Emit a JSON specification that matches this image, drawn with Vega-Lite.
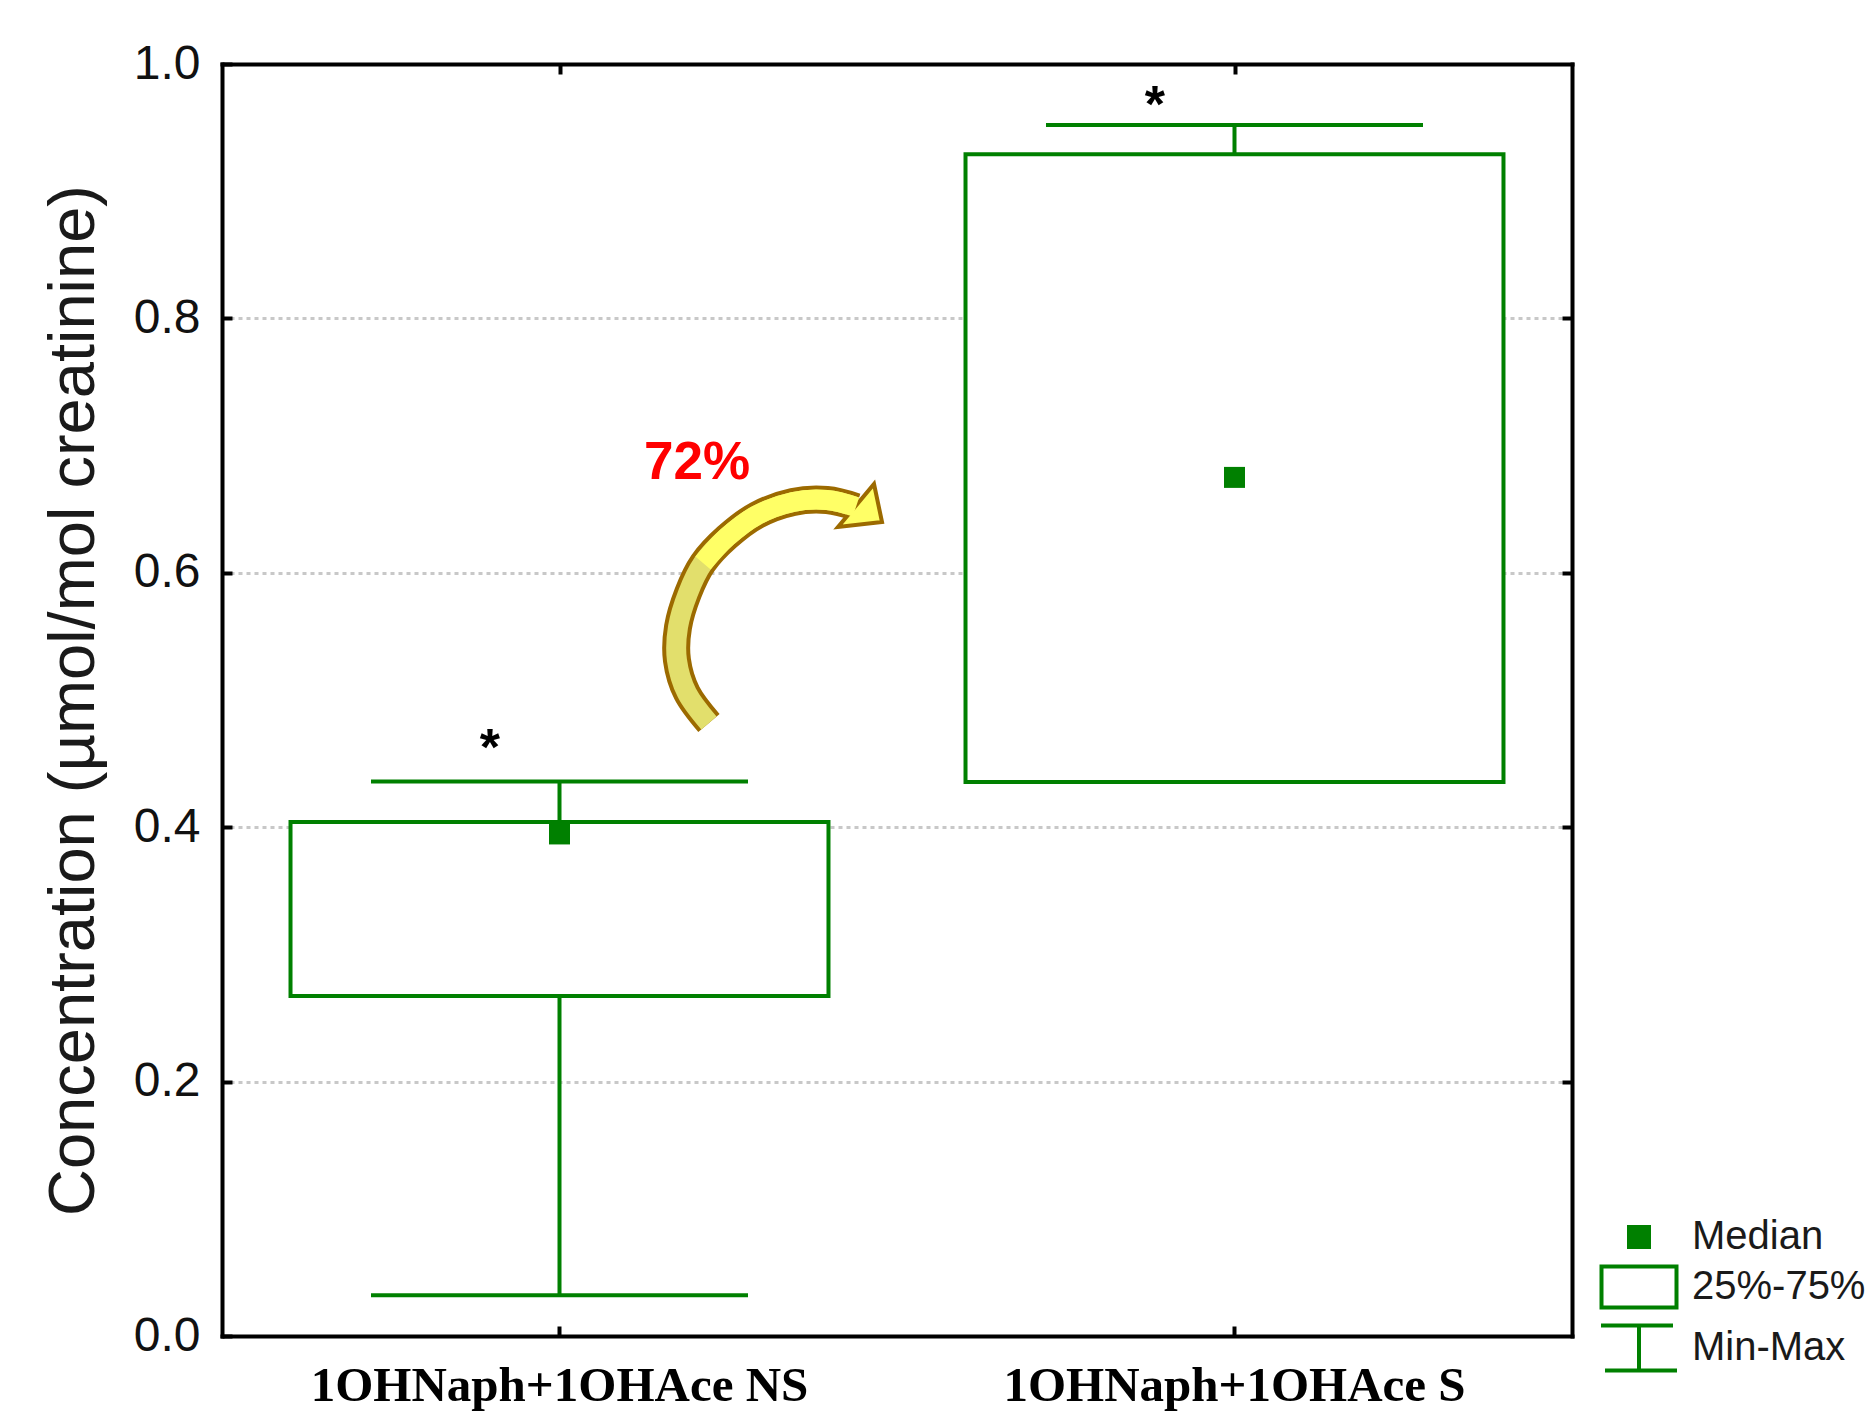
{
  "$schema": "https://vega.github.io/schema/vega-lite/v6.json",
  "width": 1350,
  "height": 1272,
  "autosize": {"type": "none"},
  "padding": {"left": 222, "top": 64, "right": 300, "bottom": 77},
  "background": "white",
  "config": {"view": {"stroke": null}, "font": "Liberation Sans"},
  "datasets": {
    "boxes": [
      {"group": "1OHNaph+1OHAce NS", "min": 0.032, "q1": 0.2673, "median": 0.3947, "q3": 0.404, "max": 0.4359},
      {"group": "1OHNaph+1OHAce S", "min": 0.4355, "q1": 0.4355, "median": 0.675, "q3": 0.929, "max": 0.952}
    ],
    "legend": [{"stat": "Median"}, {"stat": "25%-75%"}, {"stat": "Min-Max"}],
    "arrow": [
      {"step": 1, "x": 0.3607, "y": 0.4819},
      {"step": 2, "x": 0.3444, "y": 0.5055},
      {"step": 3, "x": 0.337, "y": 0.5314},
      {"step": 4, "x": 0.3378, "y": 0.5574},
      {"step": 5, "x": 0.3452, "y": 0.5841},
      {"step": 6, "x": 0.3563, "y": 0.6077},
      {"step": 7, "x": 0.3741, "y": 0.6281},
      {"step": 8, "x": 0.3963, "y": 0.6454},
      {"step": 9, "x": 0.423, "y": 0.6557},
      {"step": 10, "x": 0.4481, "y": 0.6572},
      {"step": 11, "x": 0.4696, "y": 0.6517}
    ],
    "head": [{"x": 0.4689, "y": 0.6525}],
    "stars": [
      {"x": 0.1985, "y": 0.4486, "label": "*"},
      {"x": 0.691, "y": 0.9546, "label": "*"}
    ],
    "notes": [{"x": 0.3519, "y": 0.6737, "label": "72%"}]
  },
  "layer": [
    {
      "data": {"name": "boxes"},
      "layer": [
        {
          "mark": {"type": "rule", "color": "#008000", "strokeWidth": 4},
          "encoding": {
            "x": {
              "field": "group", "type": "nominal",
              "scale": {"type": "band", "domain": ["1OHNaph+1OHAce NS", "1OHNaph+1OHAce S"], "paddingInner": 0, "paddingOuter": 0},
              "axis": {
                "title": null, "labelAngle": 0, "labelFont": "Liberation Serif", "labelFontWeight": "bold",
                "labelFontSize": 49, "labelColor": "#000000", "labelPadding": 35, "labelLimit": 0,
                "tickSize": -10, "tickWidth": 4, "tickColor": "#000000",
                "domainColor": "#000000", "domainWidth": 4, "domainCap": "square",
                "bandPosition": 0.5, "grid": false, "zindex": 1
              }
            },
            "y": {
              "field": "min", "type": "quantitative",
              "scale": {"domain": [0, 1], "nice": false, "zero": false},
              "axis": {
                "values": [0, 0.2, 0.4, 0.6, 0.8, 1], "format": ".1f",
                "title": "Concentration (µmol/mol creatinine)",
                "titleFont": "Liberation Sans", "titleFontSize": 65, "titleFontWeight": "normal",
                "titleColor": "#1a1a1a", "titlePadding": 26,
                "labelFont": "Liberation Sans", "labelFontSize": 48, "labelColor": "#111111", "labelPadding": 32,
                "tickSize": -10, "tickWidth": 4, "tickColor": "#000000",
                "domainColor": "#000000", "domainWidth": 4, "domainCap": "square",
                "grid": true, "gridColor": "#c8c8c8", "gridWidth": 3, "gridDash": [4, 4]
              }
            },
            "y2": {"field": "max"}
          }
        },
        {
          "mark": {"type": "tick", "color": "#008000", "size": 377, "thickness": 4, "opacity": 1},
          "encoding": {
            "x": {"field": "group", "type": "nominal"},
            "y": {"field": "max", "type": "quantitative"}
          }
        },
        {
          "mark": {"type": "tick", "color": "#008000", "size": 377, "thickness": 4, "opacity": 1},
          "encoding": {
            "x": {"field": "group", "type": "nominal"},
            "y": {"field": "min", "type": "quantitative"}
          }
        },
        {
          "mark": {"type": "bar", "fill": "#ffffff", "stroke": "#008000", "strokeWidth": 4, "width": {"band": 0.797}},
          "encoding": {
            "x": {"field": "group", "type": "nominal"},
            "y": {"field": "q1", "type": "quantitative"},
            "y2": {"field": "q3"}
          }
        },
        {
          "mark": {"type": "point", "shape": "square", "filled": true, "color": "#008000", "size": 441, "opacity": 1},
          "encoding": {
            "x": {"field": "group", "type": "nominal"},
            "y": {"field": "median", "type": "quantitative"}
          }
        },
        {
          "data": {"name": "legend"},
          "mark": {"type": "point", "filled": true, "size": 1600, "strokeWidth": 4, "opacity": 1, "clip": true},
          "encoding": {
            "y": {"datum": -1, "type": "quantitative"},
            "shape": {
              "field": "stat", "type": "nominal",
              "scale": {
                "domain": ["Median", "25%-75%", "Min-Max"],
                "range": [
                  "M -0.5 -0.5 L 0.5 -0.5 L 0.5 0.5 L -0.5 0.5 Z",
                  "M -1.875 -1.025 L 1.875 -1.025 L 1.875 1.025 L -1.875 1.025 Z",
                  "M -1.9 -1.125 L 1.7 -1.125 M 0 -1.125 L 0 1.125 M -1.7 1.125 L 1.9 1.125"
                ]
              },
              "legend": {
                "title": null, "orient": "none", "legendX": 1395, "legendY": 1151, "padding": 0,
                "labelFont": "Liberation Sans", "labelFontSize": 40, "labelColor": "#1a1a1a", "labelLimit": 0,
                "labelOffset": 31, "rowPadding": 1, "symbolSize": 1600, "symbolStrokeWidth": 4
              }
            },
            "fill": {
              "field": "stat", "type": "nominal",
              "scale": {"domain": ["Median", "25%-75%", "Min-Max"], "range": ["#008000", "#ffffff", "transparent"]},
              "legend": {
                "title": null, "orient": "none", "legendX": 1395, "legendY": 1151, "padding": 0,
                "labelFont": "Liberation Sans", "labelFontSize": 40, "labelColor": "#1a1a1a", "labelLimit": 0,
                "labelOffset": 31, "rowPadding": 1, "symbolSize": 1600, "symbolStrokeWidth": 4
              }
            },
            "stroke": {
              "field": "stat", "type": "nominal",
              "scale": {"domain": ["Median", "25%-75%", "Min-Max"], "range": ["#008000", "#008000", "#008000"]},
              "legend": {
                "title": null, "orient": "none", "legendX": 1395, "legendY": 1151, "padding": 0,
                "labelFont": "Liberation Sans", "labelFontSize": 40, "labelColor": "#1a1a1a", "labelLimit": 0,
                "labelOffset": 31, "rowPadding": 1, "symbolSize": 1600, "symbolStrokeWidth": 4
              }
            }
          }
        }
      ]
    },
    {
      "layer": [
        {
          "data": {"name": "arrow"},
          "mark": {"type": "line", "stroke": "#9c6a00", "strokeWidth": 28, "strokeCap": "butt", "strokeJoin": "round", "interpolate": "cardinal"},
          "encoding": {
            "x": {
              "field": "x", "type": "quantitative",
              "scale": {"domain": [0, 1], "nice": false, "zero": false},
              "axis": {
                "orient": "top", "values": [0.25, 0.75], "labels": false, "title": null, "grid": false,
                "tickSize": -10, "tickWidth": 4, "tickColor": "#000000",
                "domainColor": "#000000", "domainWidth": 4, "domainCap": "square", "zindex": 1
              }
            },
            "y": {
              "field": "y", "type": "quantitative",
              "scale": {"domain": [0, 1], "nice": false, "zero": false},
              "axis": {
                "orient": "right", "values": [0.2, 0.4, 0.6, 0.8], "labels": false, "title": null, "grid": false,
                "tickSize": -10, "tickWidth": 4, "tickColor": "#000000",
                "domainColor": "#000000", "domainWidth": 4, "domainCap": "square", "zindex": 1
              }
            },
            "order": {"field": "step", "type": "quantitative"}
          }
        },
        {
          "data": {"name": "arrow"},
          "mark": {"type": "line", "stroke": "#e2df6c", "strokeWidth": 20, "strokeCap": "butt", "strokeJoin": "round", "interpolate": "cardinal"},
          "encoding": {
            "x": {"field": "x", "type": "quantitative"},
            "y": {"field": "y", "type": "quantitative"},
            "order": {"field": "step", "type": "quantitative"}
          }
        },
        {
          "data": {"name": "head"},
          "mark": {"type": "point", "shape": "M 1.9 -2.2 L 2.7 1.6 L -1.7 2.1 Z", "size": 400, "filled": true, "fill": "#ffff66", "stroke": "#9c6a00", "strokeWidth": 4, "opacity": 1},
          "encoding": {
            "x": {"field": "x", "type": "quantitative"},
            "y": {"field": "y", "type": "quantitative"}
          }
        },
        {
          "data": {"name": "arrow"},
          "transform": [{"filter": "datum.step >= 6"}],
          "mark": {"type": "line", "stroke": "#ffff66", "strokeWidth": 20, "strokeCap": "butt", "strokeJoin": "round", "interpolate": "cardinal"},
          "encoding": {
            "x": {"field": "x", "type": "quantitative"},
            "y": {"field": "y", "type": "quantitative"},
            "order": {"field": "step", "type": "quantitative"}
          }
        },
        {
          "data": {"name": "stars"},
          "mark": {"type": "text", "font": "Liberation Sans", "fontWeight": "bold", "fontSize": 52, "color": "#000000", "align": "center", "baseline": "alphabetic"},
          "encoding": {
            "x": {"field": "x", "type": "quantitative"},
            "y": {"field": "y", "type": "quantitative"},
            "text": {"field": "label"}
          }
        },
        {
          "data": {"name": "notes"},
          "mark": {"type": "text", "font": "Liberation Sans", "fontWeight": "bold", "fontSize": 53, "color": "#ff0000", "align": "center", "baseline": "alphabetic"},
          "encoding": {
            "x": {"field": "x", "type": "quantitative"},
            "y": {"field": "y", "type": "quantitative"},
            "text": {"field": "label"}
          }
        }
      ]
    }
  ],
  "resolve": {"scale": {"x": "independent", "y": "independent"}}
}
